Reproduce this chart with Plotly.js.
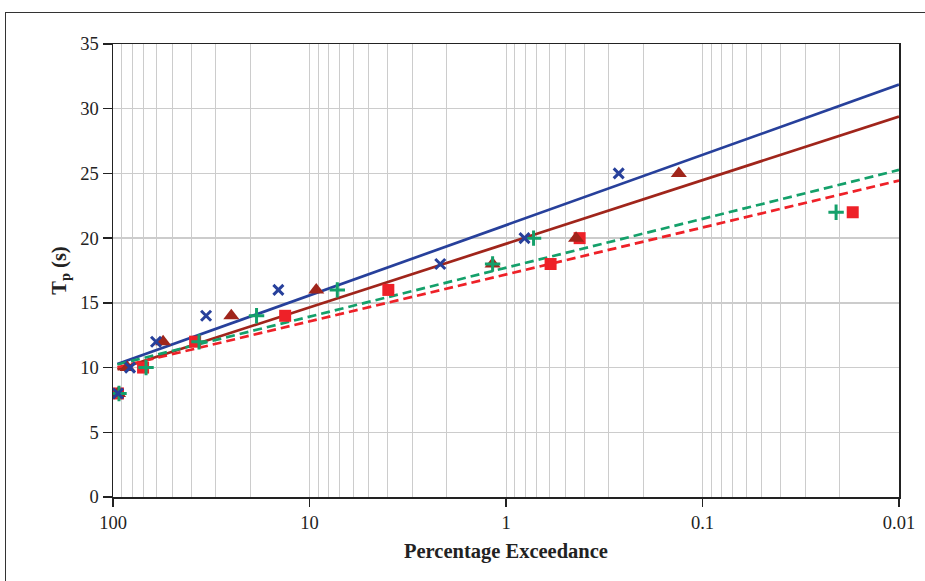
<!DOCTYPE html>
<html>
<head>
<meta charset="utf-8">
<script src="https://cdn.plot.ly/plotly-3.0.1.min.js"></script>
<style>
html,body{margin:0;padding:0;background:#fff;}
#frame{position:absolute;left:5px;top:12px;width:1000px;height:1000px;border-left:1.5px solid #333;border-top:1.5px solid #333;}
#chart{position:absolute;left:0;top:0;width:925px;height:581px;}
</style>
</head>
<body>
<div id="frame"></div>
<div id="chart"></div>
<script>
// Tp levels (s) and percentage exceedance for each series
const tpBlue  = [8, 10, 12, 14, 16, 18, 20, 25];
const pBlue   = [94.3, 81.9, 60.4, 33.6, 14.4, 2.16, 0.805, 0.267];

const tpTri   = [8, 10, 12, 14, 16, 18, 20, 25];
const pTri    = [94.3, 84.5, 55.6, 25.0, 9.24, 1.17, 0.44, 0.132];

const tpGreen = [8, 10, 12, 14, 16, 18, 20, 22];
const pGreen  = [93.2, 67.9, 36.5, 18.6, 7.22, 1.17, 0.724, 0.0209];

const tpRed   = [8, 10, 12, 14, 16, 18, 20, 22];
const pRed    = [94.3, 70.3, 38.2, 13.3, 3.97, 0.593, 0.422, 0.0172];

// fitted lines (endpoints)
const fitP      = [95, 0.01];
const fitBlue   = [10.27, 31.86];
const fitTri    = [9.85, 29.39];
const fitGreen  = [10.24, 25.27];
const fitRed    = [10.02, 24.45];

const xTickVals = [100, 10, 1, 0.1, 0.01];
const xTickText = ['100', '10', '1', '0.1', '0.01'];

const cBlue = '#27409b', cTri = '#a0251b', cGreen = '#14a06a', cRed = '#ee2128';

const traces = [
  {x: fitP, y: fitBlue, mode: 'lines', line: {color: cBlue, width: 2.7}},
  {x: fitP, y: fitTri, mode: 'lines', line: {color: cTri, width: 2.7}},
  {x: fitP, y: fitGreen, mode: 'lines', line: {color: cGreen, width: 2.7, dash: '9px,5px'}},
  {x: fitP, y: fitRed, mode: 'lines', line: {color: cRed, width: 2.7, dash: '9px,5px'}},
  {x: pRed, y: tpRed, mode: 'markers', marker: {symbol: 'square', size: 12, color: cRed}},
  {x: pTri, y: tpTri, mode: 'markers', marker: {symbol: 'triangle-up', size: 14, color: cTri}},
  {x: pGreen, y: tpGreen, mode: 'markers', marker: {symbol: 'cross-thin', size: 11, line: {color: cGreen, width: 3}}},
  {x: pBlue, y: tpBlue, mode: 'markers', marker: {symbol: 'x-thin', size: 10, line: {color: cBlue, width: 3}}}
];

const fam = '"Liberation Serif", "DejaVu Serif", serif';
const grid = '#cccccc';

const layout = {
  width: 925, height: 581,
  margin: {l: 113, r: 26, t: 44, b: 84},
  paper_bgcolor: 'rgba(0,0,0,0)',
  plot_bgcolor: 'rgba(0,0,0,0)',
  showlegend: false,
  font: {family: fam, size: 18, color: '#222'},
  xaxis: {
    type: 'log',
    range: [2, -2],
    tickvals: xTickVals,
    ticktext: xTickText,
    ticks: 'outside', ticklen: 8, tickcolor: '#222', tickwidth: 1.5,
    showline: true, linecolor: '#222', linewidth: 1.5, mirror: true,
    showgrid: true, gridcolor: grid, gridwidth: 1,
    minor: {dtick: 'D1', showgrid: true, gridcolor: grid, gridwidth: 1, ticks: ''},
    zeroline: false,
    tickfont: {family: fam, size: 18.5, color: '#222'},
    title: {text: '<b>Percentage Exceedance</b>', font: {family: fam, size: 20.5, color: '#222'}, standoff: 12}
  },
  yaxis: {
    range: [0, 35],
    dtick: 5,
    ticks: 'outside', ticklen: 9, tickcolor: '#222', tickwidth: 1.5,
    showline: true, linecolor: '#222', linewidth: 1.5, mirror: true,
    showgrid: true, gridcolor: grid, gridwidth: 1.5,
    zeroline: false,
    tickfont: {family: fam, size: 18.5, color: '#222'},
    title: {text: '<b>T<sub>p</sub> (s)</b>', font: {family: fam, size: 20.5, color: '#222'}, standoff: 8}
  }
};

Plotly.newPlot('chart', traces, layout, {displayModeBar: false, staticPlot: true});
</script>
</body>
</html>
